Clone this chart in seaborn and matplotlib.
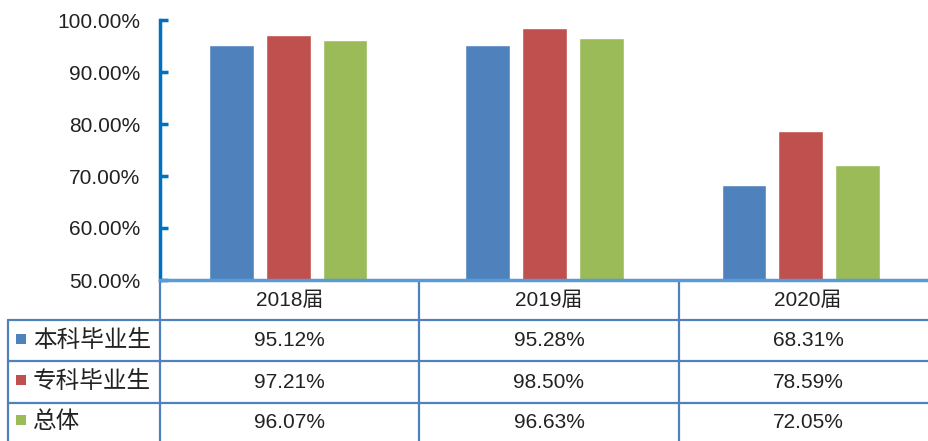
import matplotlib
matplotlib.use("Agg")
import matplotlib.pyplot as plt
from matplotlib.lines import Line2D
from matplotlib.patches import Rectangle
import seaborn as sns
import pandas as pd

# Graduation cohorts and rates (%) per student group
cohorts = ["2018届", "2019届", "2020届"]
series = ["本科毕业生", "专科毕业生", "总体"]
undergrad = [95.12, 95.28, 68.31]
junior_college = [97.21, 98.50, 78.59]
overall = [96.07, 96.63, 72.05]
y_ticks = [50, 60, 70, 80, 90, 100]
colors = ["#4F81BD", "#C0504D", "#9BBB59"]

values = [undergrad, junior_college, overall]
df = pd.DataFrame(
    [(c, s, v[i]) for s, v in zip(series, values) for i, c in enumerate(cohorts)],
    columns=["cohort", "group", "rate"],
)

sns.set_theme(style="white")
plt.rcParams["font.family"] = ["Liberation Sans", "Noto Sans CJK SC", "DejaVu Sans"]
cjk = ["Noto Sans CJK SC", "DejaVu Sans"]
text_color = "#222222"

W, H = 929, 441
fig = plt.figure(figsize=(W / 100, H / 100), dpi=100)

# Chart area in pixel terms
x0, x1, y_top, y_bot = 160, 929, 20, 280
ax = fig.add_axes([x0 / W, 1 - y_bot / H, (x1 - x0) / W, (y_bot - y_top) / H])
sns.barplot(
    data=df, x="cohort", y="rate", hue="group", order=cohorts, hue_order=series,
    palette=colors, saturation=1, width=0.665, gap=0.21, legend=False, ax=ax,
)
ax.set_xlim(-0.5, 2.5)
ax.set_ylim(50, 100)
ax.set_yticks(y_ticks)
ax.set_yticklabels([f"{t:.2f}%" for t in y_ticks], fontsize=15, color=text_color)
ax.set_xticks([])
ax.set_xlabel("")
ax.set_ylabel("")
for side in ["top", "right"]:
    ax.spines[side].set_visible(False)
ax.spines["left"].set_color("#0070C0")
ax.spines["left"].set_linewidth(2.5)
ax.spines["bottom"].set_color("#5B9BD5")
ax.spines["bottom"].set_linewidth(2.5)
ax.tick_params(axis="y", left=True, direction="in", length=6, width=2.5,
               color="#0070C0", pad=14)
ax.patch.set_alpha(0)

# Data table beneath the chart, in pixel coordinates
tab = fig.add_axes([0, 0, 1, 1], zorder=-1)
tab.set_xlim(0, W)
tab.set_ylim(H, 0)
tab.axis("off")
line_c = "#4F81BD"
col_edges = [160, 419, 679]
row_edges = [320, 361, 403]
for y in row_edges:
    tab.add_line(Line2D([8, W], [y, y], color=line_c, lw=1.6))
for x in col_edges:
    tab.add_line(Line2D([x, x], [281, H], color=line_c, lw=1.6))
tab.add_line(Line2D([8.5, 8.5], [320, H], color=line_c, lw=1.6))

col_centers = [289.5, 549, 808]
for c, cx in zip(cohorts, col_centers):
    tab.text(cx, 300, c, ha="center", va="center", fontsize=15, color=text_color)

row_centers = [340.5, 382, 422]
for s, v, col, cy in zip(series, values, colors, row_centers):
    tab.add_patch(Rectangle((16, cy - 7), 10, 10, color=col, lw=0))
    tab.text(33, cy, s, ha="left", va="center", fontsize=17, family=cjk, color=text_color)
    for val, cx in zip(v, col_centers):
        tab.text(cx, cy, f"{val:.2f}%", ha="center", va="center", fontsize=15, color=text_color)

fig.savefig("out.png", dpi=100)
